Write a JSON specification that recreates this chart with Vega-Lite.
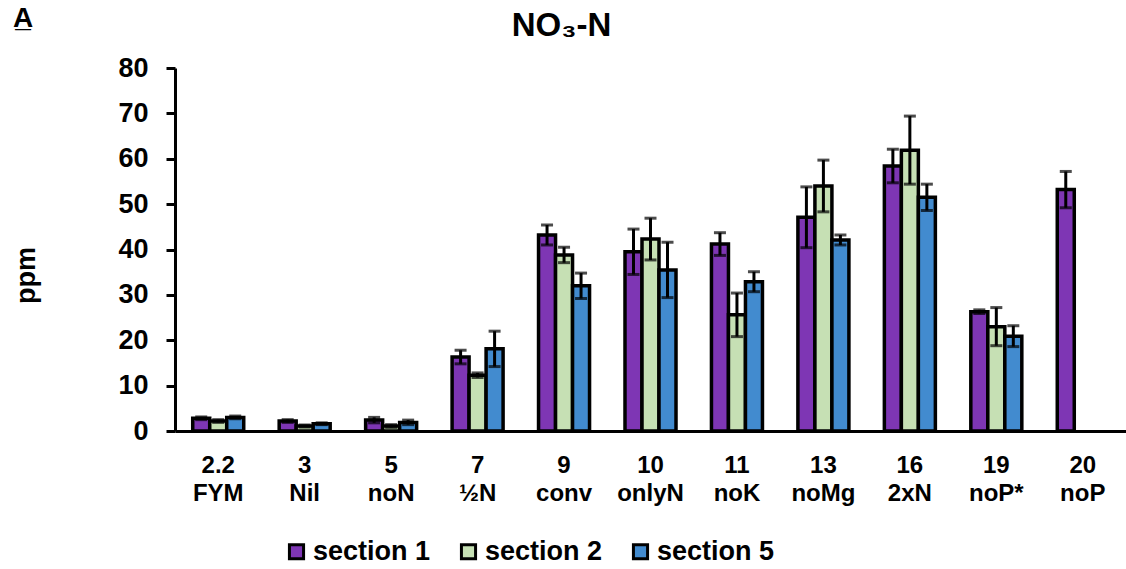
{
  "$schema": "https://vega.github.io/schema/vega-lite/v6.json",
  "width": 951,
  "height": 363,
  "autosize": {"type": "none"},
  "padding": {"left": 175, "top": 68, "right": 0, "bottom": 138},
  "background": "white",
  "title": {
    "text": "NO₃-N",
    "font": "Liberation Sans",
    "fontSize": 33,
    "fontWeight": "bold",
    "color": "black",
    "anchor": "middle",
    "frame": "group",
    "dx": -89,
    "offset": -64,
    "baseline": "alphabetic"
  },
  "data": {
    "values": [
      {"treatment": "2.2|FYM", "section": "section 1", "mean": 2.8, "sd": 0.3},
      {"treatment": "2.2|FYM", "section": "section 2", "mean": 2.2, "sd": 0.3},
      {"treatment": "2.2|FYM", "section": "section 5", "mean": 3.0, "sd": 0.3},
      {"treatment": "3|Nil", "section": "section 1", "mean": 2.2, "sd": 0.3},
      {"treatment": "3|Nil", "section": "section 2", "mean": 1.1, "sd": 0.2},
      {"treatment": "3|Nil", "section": "section 5", "mean": 1.6, "sd": 0.2},
      {"treatment": "5|noN", "section": "section 1", "mean": 2.4, "sd": 0.6},
      {"treatment": "5|noN", "section": "section 2", "mean": 1.1, "sd": 0.3},
      {"treatment": "5|noN", "section": "section 5", "mean": 1.9, "sd": 0.5},
      {"treatment": "7|½N", "section": "section 1", "mean": 16.3, "sd": 1.5},
      {"treatment": "7|½N", "section": "section 2", "mean": 12.3, "sd": 0.5},
      {"treatment": "7|½N", "section": "section 5", "mean": 18.1, "sd": 3.9},
      {"treatment": "9|conv", "section": "section 1", "mean": 43.2, "sd": 2.2},
      {"treatment": "9|conv", "section": "section 2", "mean": 38.8, "sd": 1.7},
      {"treatment": "9|conv", "section": "section 5", "mean": 32.0, "sd": 2.8},
      {"treatment": "10|onlyN", "section": "section 1", "mean": 39.5, "sd": 5.0},
      {"treatment": "10|onlyN", "section": "section 2", "mean": 42.3, "sd": 4.6},
      {"treatment": "10|onlyN", "section": "section 5", "mean": 35.5, "sd": 6.1},
      {"treatment": "11|noK", "section": "section 1", "mean": 41.2, "sd": 2.5},
      {"treatment": "11|noK", "section": "section 2", "mean": 25.6, "sd": 4.8},
      {"treatment": "11|noK", "section": "section 5", "mean": 32.9, "sd": 2.2},
      {"treatment": "13|noMg", "section": "section 1", "mean": 47.1, "sd": 6.7},
      {"treatment": "13|noMg", "section": "section 2", "mean": 54.0, "sd": 5.7},
      {"treatment": "13|noMg", "section": "section 5", "mean": 42.1, "sd": 1.1},
      {"treatment": "16|2xN", "section": "section 1", "mean": 58.4, "sd": 3.7},
      {"treatment": "16|2xN", "section": "section 2", "mean": 61.9, "sd": 7.5},
      {"treatment": "16|2xN", "section": "section 5", "mean": 51.5, "sd": 2.9},
      {"treatment": "19|noP*", "section": "section 1", "mean": 26.3, "sd": 0.4},
      {"treatment": "19|noP*", "section": "section 2", "mean": 23.0, "sd": 4.2},
      {"treatment": "19|noP*", "section": "section 5", "mean": 20.9, "sd": 2.3},
      {"treatment": "20|noP", "section": "section 1", "mean": 53.2, "sd": 4.0}
    ]
  },
  "layer": [
    {
      "mark": {"type": "bar", "stroke": "black", "strokeWidth": 3.5},
      "encoding": {
        "x": {
          "field": "treatment",
          "type": "nominal",
          "sort": null,
          "scale": {"paddingInner": 0.41, "paddingOuter": 0.205},
          "axis": {
            "title": null,
            "labelExpr": "split(datum.label, '|')",
            "labelAngle": 0,
            "labelBaseline": "top",
            "labelFont": "'Liberation Sans Narrow', 'Liberation Sans', Arial, sans-serif",
            "labelFontSize": 24,
            "labelFontWeight": "bold",
            "labelColor": "black",
            "labelLineHeight": 28,
            "labelPadding": 22,
            "ticks": false,
            "domainColor": "black",
            "domainWidth": 3,
            "grid": false
          }
        },
        "xOffset": {
          "field": "section",
          "type": "nominal",
          "scale": {"domain": ["section 1", "section 2", "section 5"], "paddingInner": 0, "paddingOuter": 0}
        },
        "y": {
          "field": "mean",
          "type": "quantitative",
          "title": "ppm",
          "scale": {"domain": [0, 80], "nice": false},
          "axis": {
            "values": [0, 10, 20, 30, 40, 50, 60, 70, 80],
            "title": "ppm",
            "titleFont": "Liberation Sans",
            "titleFontSize": 27,
            "titleFontWeight": "bold",
            "titleColor": "black",
            "titleAngle": 270,
            "titleAlign": "center",
            "titleBaseline": "alphabetic",
            "titleX": -141,
            "titleY": 207,
            "labelFont": "Liberation Sans",
            "labelFontSize": 27,
            "labelFontWeight": "bold",
            "labelColor": "black",
            "labelPadding": 18,
            "tickColor": "black",
            "tickWidth": 3,
            "tickSize": 9,
            "domainColor": "black",
            "domainWidth": 3,
            "grid": false
          }
        },
        "color": {
          "field": "section",
          "type": "nominal",
          "scale": {
            "domain": ["section 1", "section 2", "section 5"],
            "range": ["#7E36B4", "#C6E0B4", "#428BCF"]
          },
          "legend": {
            "title": null,
            "orient": "none",
            "legendX": 108,
            "legendY": 470,
            "direction": "horizontal",
            "symbolType": "square",
            "symbolSize": 200,
            "symbolStrokeColor": "black",
            "symbolStrokeWidth": 3,
            "symbolOpacity": 1,
            "labelFont": "Liberation Sans",
            "labelFontSize": 27,
            "labelFontWeight": "bold",
            "labelColor": "black",
            "labelOffset": 3,
            "columnPadding": 24
          }
        }
      }
    },
    {
      "mark": {
        "type": "errorbar",
        "ticks": {"size": 12, "thickness": 3, "color": "black"},
        "rule": {"strokeWidth": 3, "color": "black"}
      },
      "encoding": {
        "x": {"field": "treatment", "type": "nominal", "sort": null},
        "xOffset": {"field": "section", "type": "nominal"},
        "y": {"field": "mean", "type": "quantitative", "title": "ppm"},
        "yError": {"field": "sd"}
      }
    },
    {
      "data": {"values": [{"panel": "A̲"}]},
      "mark": {
        "type": "text",
        "x": -162,
        "y": -41,
        "align": "left",
        "baseline": "alphabetic",
        "font": "Liberation Sans",
        "fontSize": 28,
        "fontWeight": "bold",
        "color": "black"
      },
      "encoding": {"text": {"field": "panel"}}
    }
  ],
  "config": {"view": {"stroke": null}}
}
